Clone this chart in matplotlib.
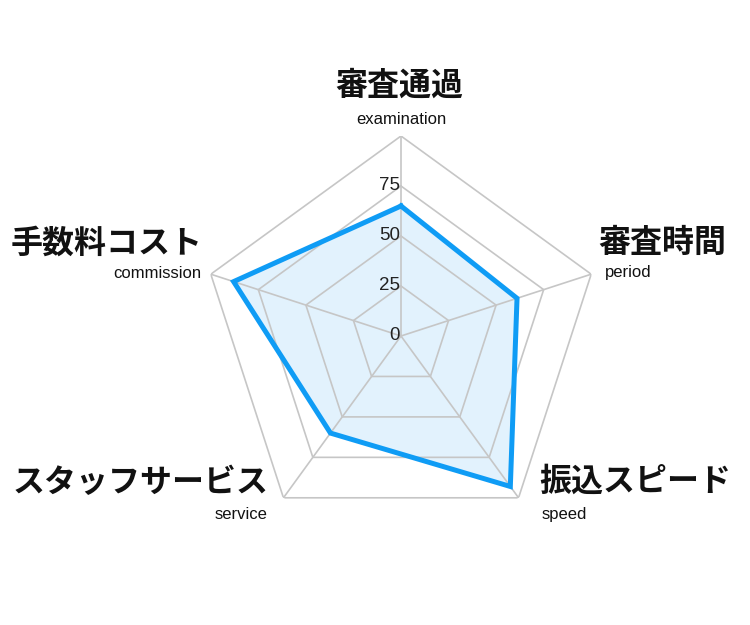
"""Radar chart: bank/loan service comparison (5 axes, 0-100)."""
import numpy as np
import matplotlib
matplotlib.use("Agg")
import matplotlib.pyplot as plt  # noqa: E402

plt.rcParams["font.family"] = ["Noto Sans CJK JP", "DejaVu Sans"]

# data
labels_ja = ["審査通過", "審査時間", "振込スピード", "スタッフサービス", "手数料コスト"]
labels_en = ["examination", "period", "speed", "service", "commission"]
values = [65, 61, 93, 60, 88]
ticks = [0, 25, 50, 75]
rings = [25, 50, 75, 100]

LINE = "#0f9cf5"
FILL = "#e2f2fd"
GRID = "#c6c6c6"

n = len(labels_ja)
theta = np.arange(n) * 2 * np.pi / n
theta_c = np.append(theta, theta[0])

W, H = 750, 625
cx, cy, R = 401, 336, 200
fig = plt.figure(figsize=(W / 100, H / 100), dpi=100)
ax = fig.add_axes([(cx - R) / W, (H - cy - R) / H, 2 * R / W, 2 * R / H],
                  projection="polar")
ax.set_theta_offset(np.pi / 2)
ax.set_theta_direction(-1)
ax.set_ylim(0, 100)
ax.grid(False)
ax.spines["polar"].set_visible(False)
ax.set_xticks([])
ax.set_yticks([])
ax.patch.set_alpha(0)

# data fill sits under the grid, outline on top
vals_c = values + values[:1]
ax.fill(theta_c, vals_c, color=FILL, lw=0, zorder=0.5)

# pentagon grid + spokes
for r in rings:
    ax.plot(theta_c, [r] * (n + 1), color=GRID, lw=1.2, zorder=1)
for t in theta:
    ax.plot([t, t], [0, 100], color=GRID, lw=1.2, zorder=1)

ax.plot(theta_c, vals_c, color=LINE, lw=3.6, zorder=3, solid_joinstyle="miter")

# tick labels along top spoke
for v in ticks:
    ax.annotate(str(v), xy=(0, v), xytext=(-1, 0), textcoords="offset pixels",
                ha="right", va="center", fontsize=13.5, color="#222222",
                family=["Liberation Sans", "DejaVu Sans"], zorder=4)

# axis labels: (ja offset, en offset, ha) in pixels from outer vertex
offs = [
    ((-2, 50), (0, 17), "center"),
    ((7, 31), (14, 2), "left"),
    ((21, 16), (23, -17), "left"),
    ((-15, 15), (-16, -17), "right"),
    ((-8, 31), (-9, 1), "right"),
]
for t, ja, en, (oj, oe, ha) in zip(theta, labels_ja, labels_en, offs):
    ax.annotate(ja, xy=(t, 100), xytext=oj, textcoords="offset pixels",
                ha=ha, va="center", fontsize=23, fontweight="bold",
                color="#111111", annotation_clip=False)
    ax.annotate(en, xy=(t, 100), xytext=oe, textcoords="offset pixels",
                ha=ha, va="center", fontsize=12, color="#111111",
                family=["Liberation Sans", "DejaVu Sans"],
                annotation_clip=False)

fig.savefig("out.png", dpi=100, facecolor="white")
